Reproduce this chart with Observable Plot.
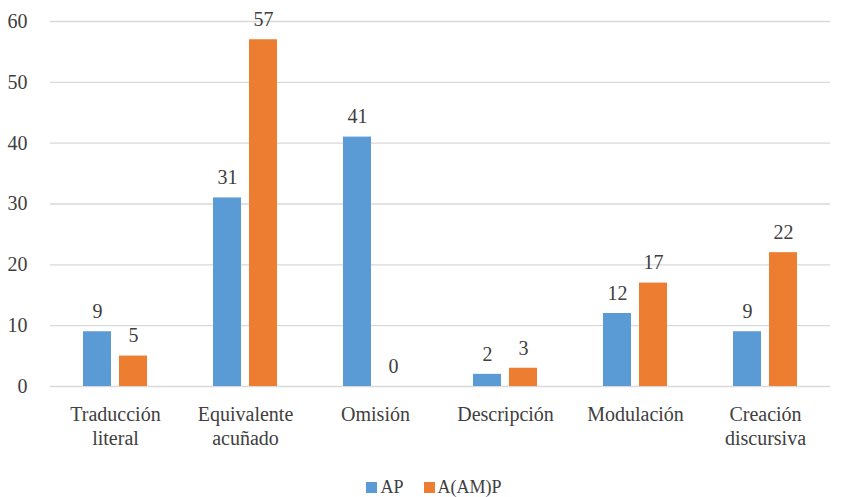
<!DOCTYPE html>
<html>
<head>
<meta charset="utf-8">
<script src="https://cdn.jsdelivr.net/npm/d3@7"></script>
<script src="https://cdn.jsdelivr.net/npm/@observablehq/plot@0.6"></script>
</head>
<body style="margin:0;background:#fff">
<div id="chart"></div>
<div id="legend" style="display:flex;justify-content:center;align-items:center;padding-left:26px;margin-top:7px;font-size:18px;color:#404040;line-height:20px;font-family:'Liberation Serif',Tinos,'Times New Roman',FreeSerif,serif"></div>
<script>
const categories = ["Traducción literal", "Equivalente acuñado", "Omisión", "Descripción", "Modulación", "Creación discursiva"];
const seriesNames = ["AP", "A(AM)P"];
const apValues = [9, 31, 41, 2, 12, 9];
const aampValues = [5, 57, 0, 3, 17, 22];
const colors = ["#5B9BD5", "#ED7D31"];
const yTicks = [0, 10, 20, 30, 40, 50, 60];

const data = [];
categories.forEach((c, i) => {
  data.push({category: c, series: seriesNames[0], value: apValues[i]});
  data.push({category: c, series: seriesNames[1], value: aampValues[i]});
});

const font = "'Liberation Serif', Tinos, 'Times New Roman', FreeSerif, serif";
const textColor = "#404040";

const chart = Plot.plot({
  width: 842,
  height: 470,
  marginLeft: 48,
  marginRight: 10,
  marginTop: 21,
  marginBottom: 84,
  style: {fontFamily: font, fontSize: "20px", color: textColor, background: "#fff"},
  fx: {domain: categories, padding: 0, axis: null, label: null},
  x: {domain: seriesNames, paddingInner: 8 / 37, paddingOuter: 0.874, axis: null, label: null},
  y: {domain: [0, 60], axis: null, label: null},
  color: {domain: seriesNames, range: colors},
  marks: [
    Plot.ruleY(yTicks, {stroke: "#d9d9d9", strokeWidth: 1.3}),
    Plot.axisY({ticks: yTicks, tickSize: 0, tickPadding: 23, fontSize: 20, fontFamily: font, fill: textColor, label: null}),
    Plot.axisFx({anchor: "bottom", tickSize: 0, tickPadding: 17, fontSize: 20, fontFamily: font, lineHeight: 1.2, fill: textColor, label: null,
      tickFormat: d => d.replace(" ", "\n")}),
    Plot.barY(data, {fx: "category", x: "series", y: "value", fill: "series"}),
    Plot.text(data, {fx: "category", x: "series", y: "value", text: d => String(d.value), dy: -20, fontSize: 20, fontFamily: font, fill: textColor})
  ]
});
document.getElementById("chart").appendChild(chart);

const legend = document.getElementById("legend");
seriesNames.forEach((s, i) => {
  const item = document.createElement("div");
  item.style.cssText = "display:flex;align-items:center;margin:0 10px";
  const sw = document.createElement("span");
  sw.style.cssText = `width:11px;height:11px;margin-right:3px;background:${colors[i]}`;
  const t = document.createElement("span");
  t.textContent = s;
  item.appendChild(sw);
  item.appendChild(t);
  legend.appendChild(item);
});
</script>
</body>
</html>
